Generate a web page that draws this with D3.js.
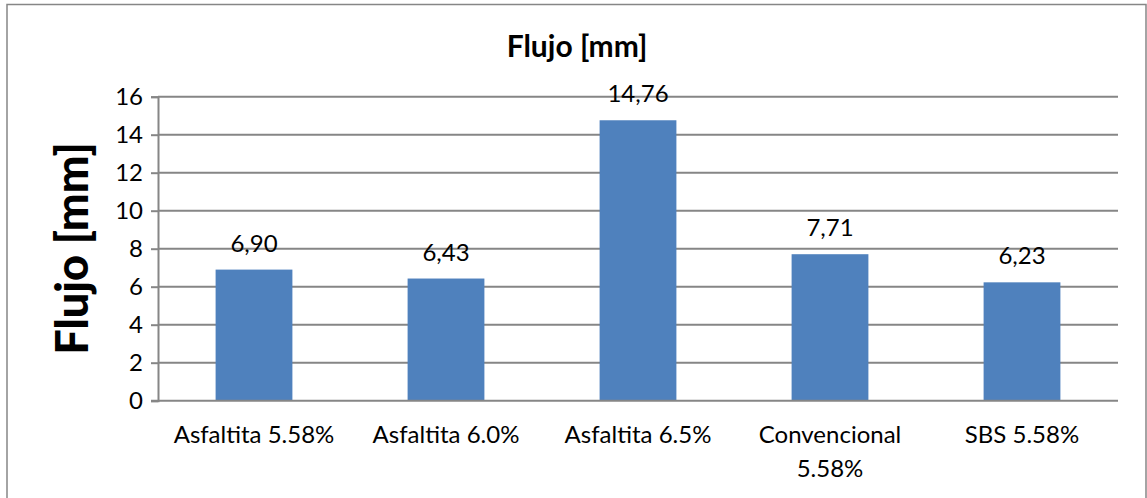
<!DOCTYPE html>
<html>
<head>
<meta charset="utf-8">
<script src="https://cdn.jsdelivr.net/npm/d3@7"></script>
<style>
  html, body { margin: 0; padding: 0; background: #fff; }
  svg { display: block; }
  text { font-family: Lato, "Open Sans", sans-serif; fill: #000; }
</style>
</head>
<body>
<svg id="chart" width="1147" height="498"></svg>
<script>
// Flow (Flujo) per mix, in mm
const categories = [["Asfaltita 5.58%"], ["Asfaltita 6.0%"], ["Asfaltita 6.5%"], ["Convencional", "5.58%"], ["SBS 5.58%"]];
const values = [6.90, 6.43, 14.76, 7.71, 6.23];
const valueLabels = ["6,90", "6,43", "14,76", "7,71", "6,23"];
const yTicks = [0, 2, 4, 6, 8, 10, 12, 14, 16];
const chartTitle = "Flujo [mm]";
const yTitle = "Flujo [mm]";

const svg = d3.select("#chart");
const plot = { left: 158, right: 1118, top: 96.7, bottom: 400.7 };
const gridColor = "#868686";

// outer frame
svg.append("rect")
  .attr("x", 7).attr("y", 4.5)
  .attr("width", 1139).attr("height", 520)
  .attr("fill", "#fff")
  .attr("stroke", gridColor).attr("stroke-width", 1.5);

const x = d3.scaleBand()
  .domain(categories.map((d, i) => i))
  .range([plot.left, plot.right])
  .paddingInner(0.6).paddingOuter(0.3);

const y = d3.scaleLinear().domain([0, 16]).range([plot.bottom, plot.top]);

// left axis: tick marks and labels
const yAxis = d3.axisLeft(y).tickValues(yTicks).tickSize(7).tickPadding(8).tickFormat(d3.format("d"));
const gy = svg.append("g").attr("transform", `translate(${plot.left},0)`).call(yAxis);
gy.select(".domain").attr("stroke", gridColor).attr("stroke-width", 2);
gy.selectAll(".tick line").attr("stroke", gridColor).attr("stroke-width", 2);
gy.selectAll(".tick text").attr("font-size", 24).style("font-family", "Lato, sans-serif").attr("fill", "#000");

// horizontal gridlines
svg.append("g").selectAll("line")
  .data(yTicks.filter(d => d > 0))
  .join("line")
  .attr("x1", plot.left).attr("x2", plot.right)
  .attr("y1", d => y(d)).attr("y2", d => y(d))
  .attr("stroke", gridColor).attr("stroke-width", 2);

// bars
svg.append("g").selectAll("rect")
  .data(values)
  .join("rect")
  .attr("x", (d, i) => x(i))
  .attr("width", x.bandwidth())
  .attr("y", d => y(d))
  .attr("height", d => y(0) - y(d))
  .attr("fill", "#4F81BD");

// baseline axis
svg.append("line")
  .attr("x1", plot.left - 7).attr("x2", plot.right)
  .attr("y1", y(0)).attr("y2", y(0))
  .attr("stroke", gridColor).attr("stroke-width", 2);

// value labels
svg.append("g").selectAll("text")
  .data(values)
  .join("text")
  .attr("x", (d, i) => x(i) + x.bandwidth() / 2)
  .attr("y", d => y(d) - 18)
  .attr("text-anchor", "middle")
  .attr("font-size", 24)
  .text((d, i) => valueLabels[i]);

// category labels (multi-line where needed)
const cat = svg.append("g").selectAll("text")
  .data(categories)
  .join("text")
  .attr("x", (d, i) => x(i) + x.bandwidth() / 2)
  .attr("y", 443)
  .attr("text-anchor", "middle")
  .attr("font-size", 24);
cat.each(function (lines) {
  d3.select(this).selectAll("tspan")
    .data(lines)
    .join("tspan")
    .attr("x", d3.select(this).attr("x"))
    .attr("dy", (d, j) => j === 0 ? 0 : 33.5)
    .text(d => d);
});

// chart title
svg.append("text")
  .attr("x", 577).attr("y", 57)
  .attr("text-anchor", "middle")
  .attr("font-size", 30)
  .attr("font-weight", "bold")
  .text(chartTitle);

// y-axis title
svg.append("text")
  .attr("transform", `translate(88,248.5) rotate(-90)`)
  .attr("text-anchor", "middle")
  .attr("font-size", 45)
  .attr("font-weight", "900")
  .text(yTitle);
</script>
</body>
</html>
